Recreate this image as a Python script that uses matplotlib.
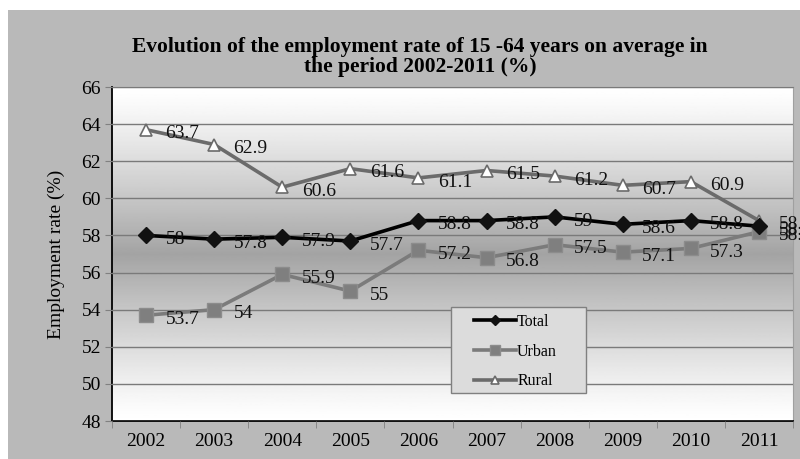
import numpy as np
import matplotlib.pyplot as plt
from matplotlib.patches import Rectangle

plt.rcParams['font.family'] = ['Liberation Serif', 'DejaVu Serif']

years = ['2002', '2003', '2004', '2005', '2006', '2007', '2008', '2009', '2010', '2011']
total = [58.0, 57.8, 57.9, 57.7, 58.8, 58.8, 59.0, 58.6, 58.8, 58.5]
urban = [53.7, 54.0, 55.9, 55.0, 57.2, 56.8, 57.5, 57.1, 57.3, 58.2]
rural = [63.7, 62.9, 60.6, 61.6, 61.1, 61.5, 61.2, 60.7, 60.9, 58.8]

fig = plt.figure(figsize=(8, 4.59), dpi=100)
fig.patch.set_facecolor('white')
# grey chart frame
fig.patches.append(Rectangle((8 / 800, 0), 1, 1 - 10 / 459, transform=fig.transFigure,
                             facecolor='#b9b9b9', edgecolor='none', zorder=-10))

ax = fig.add_axes([112 / 800, 1 - 421 / 459, (793 - 112) / 800, (421 - 87) / 459])
ax.set_facecolor('none')

# vertical white-grey-white gradient behind the plot
t = np.linspace(0, 1, 256)
shade = 1 - 0.36 * (1 - np.abs(2 * t - 1)) ** 1.2
ax.imshow(shade[:, None], extent=[0, 1, 0, 1], transform=ax.transAxes, cmap='gray',
          vmin=0, vmax=1, aspect='auto', zorder=0)

x = np.arange(len(years))
ax.plot(x, total, color='black', lw=2.6, marker='D', ms=8.5, mfc='#111111', mec='#111111',
        label='Total', zorder=5)
ax.plot(x, urban, color='#7b7b7b', lw=2.6, marker='s', ms=10, mfc='#7f7f7f', mec='#8c8c8c',
        label='Urban', zorder=4)
ax.plot(x, rural, color='#6b6b6b', lw=2.6, marker='^', ms=8, mfc='white', mec='#6b6b6b',
        mew=1.2, label='Rural', zorder=4)

for series in (total, urban, rural):
    for xi, v in zip(x, series):
        ax.annotate(f'{v:g}', (xi, v), xytext=(14, -3), textcoords='offset points',
                    ha='left', va='center', fontsize=14, color='#111111',
                    annotation_clip=False, zorder=6)

ax.set_xlim(-0.5, len(years) - 0.5)
ax.set_ylim(48, 66)
ax.set_yticks(np.arange(48, 67, 2))
ax.set_xticks(x)
ax.set_xticklabels(years)
ax.set_xticks(np.arange(-0.5, len(years)), minor=True)
ax.tick_params(axis='x', which='major', length=0, pad=9, labelsize=14)
ax.tick_params(axis='x', which='minor', length=5, color='#808080')
ax.tick_params(axis='y', length=5, color='#808080', labelsize=14, pad=3)
ax.grid(axis='y', color='#7a7a7a', lw=1)
ax.set_axisbelow(False)
for g in ax.get_ygridlines():
    g.set_zorder(1)

ax.spines['left'].set_color('black')
ax.spines['bottom'].set_color('black')
ax.spines['left'].set_linewidth(1.3)
ax.spines['bottom'].set_linewidth(1.3)
ax.spines['top'].set_color('#808080')
ax.spines['right'].set_color('#a0a0a0')

ax.set_ylabel('Employment rate (%)', fontsize=14, labelpad=12)

fig.text(420 / 800, 1 - 57 / 459,
         'Evolution of the employment rate of 15 -64 years on average in\nthe period 2002-2011 (%)',
         ha='center', va='center', fontsize=15.5, fontweight='bold', linespacing=1.05)

# legend box with the entries placed inside it
ax.add_patch(Rectangle(((451 - 112) / 681, (421 - 393) / 334), 135 / 681, 86 / 334,
                       transform=ax.transAxes, facecolor='#dcdcdc', edgecolor='#808080',
                       lw=1, zorder=9))
leg = ax.legend(loc='upper left', bbox_to_anchor=((474 - 112) / 681, (421 - 314) / 334),
                frameon=False, fontsize=11.5, handlelength=2.6, markerscale=0.65,
                labelspacing=0.85, borderpad=0, handletextpad=0.1, borderaxespad=0)
leg.set_zorder(10)

fig.savefig('out.png', dpi=100)
